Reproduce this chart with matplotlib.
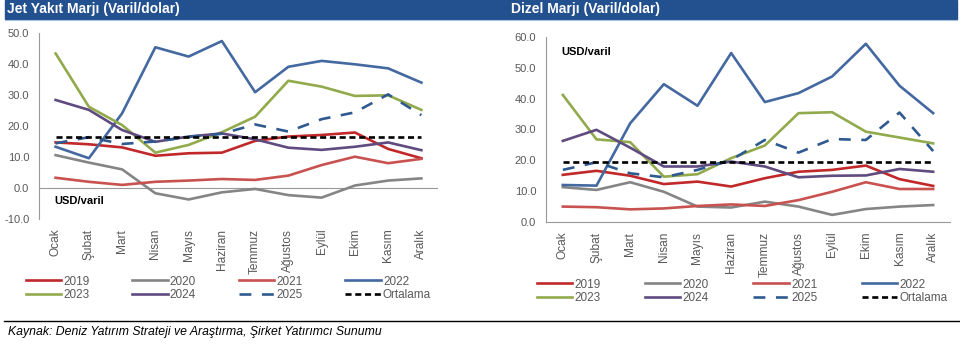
import matplotlib
matplotlib.use("Agg")
import matplotlib.pyplot as plt
from matplotlib.patches import Rectangle
from matplotlib.lines import Line2D

plt.rcParams['font.family'] = ['Liberation Sans', 'DejaVu Sans']

# aylar
months = ['Ocak', 'Şubat', 'Mart', 'Nisan', 'Mayıs', 'Haziran', 'Temmuz',
          'Ağustos', 'Eylül', 'Ekim', 'Kasım', 'Aralık']

# Jet yakıt marjı (USD/varil)
jet_2019 = [14.7, 14.1, 13.1, 10.4, 11.2, 11.4, 15.2, 16.6, 17.1, 17.9, 12.6, 9.6]
jet_2020 = [10.6, 8.2, 6.0, -1.7, -3.7, -1.4, -0.3, -2.3, -3.1, 0.8, 2.4, 3.1]
jet_2021 = [3.3, 2.0, 1.0, 2.0, 2.4, 2.9, 2.6, 4.0, 7.4, 10.1, 8.0, 9.4]
jet_2022 = [13.3, 9.6, 24.1, 45.4, 42.4, 47.4, 30.9, 39.1, 41.0, 39.9, 38.6, 34.0]
jet_2023 = [43.4, 26.2, 20.3, 11.4, 13.9, 18.0, 23.0, 34.6, 32.7, 29.7, 29.9, 25.2]
jet_2024 = [28.4, 25.2, 18.7, 14.9, 16.6, 17.6, 15.7, 13.0, 12.3, 13.3, 14.7, 12.2]
jet_2025 = [14.4, 16.4, 14.2, 15.0, 16.5, 17.5, 20.5, 18.2, 22.2, 24.4, 30.2, 23.5]
jet_avg = 16.6

# Dizel marjı (USD/varil)
diz_2019 = [15.3, 16.6, 15.0, 12.3, 13.1, 11.5, 14.2, 16.3, 16.9, 18.3, 13.9, 11.7]
diz_2020 = [11.3, 10.4, 12.9, 9.8, 5.0, 4.7, 6.6, 5.0, 2.3, 4.2, 5.0, 5.5]
diz_2021 = [5.0, 4.8, 4.1, 4.4, 5.2, 5.7, 5.2, 7.1, 9.8, 12.9, 10.7, 10.7]
diz_2022 = [12.0, 11.8, 32.0, 44.7, 37.7, 54.8, 38.9, 41.8, 47.2, 57.8, 44.2, 35.3]
diz_2023 = [41.2, 26.8, 25.9, 14.7, 15.5, 20.7, 24.8, 35.3, 35.6, 29.3, 27.4, 25.5]
diz_2024 = [26.3, 29.9, 24.1, 18.0, 18.0, 19.6, 18.0, 14.5, 15.0, 15.1, 17.2, 16.3]
diz_2025 = [16.9, 19.4, 15.8, 14.5, 16.9, 20.1, 26.6, 22.5, 26.9, 26.6, 35.5, 23.0]
diz_avg = 19.6

colors = {'2019': '#C0282A', '2020': '#858585', '2021': '#C8524F',
          '2022': '#4468A0', '2023': '#92AA4C', '2024': '#5F4B80',
          '2025': '#2F5A90'}
tick_col = '#595959'

fig = plt.figure(figsize=(9.6, 3.63), dpi=100)

# başlık bantları
fig.patches.append(Rectangle((5 / 960, 1 - 19 / 363), 952 / 960, 19 / 363,
                             transform=fig.transFigure, color='#23508F', zorder=0))
fig.add_artist(Line2D([5 / 960, 957 / 960], [1 - 19.5 / 363] * 2, color='#A9C0E0',
                      lw=0.8, transform=fig.transFigure))
fig.text(7 / 960, 1 - 9.5 / 363, 'Jet Yakıt Marjı (Varil/dolar)', color='white',
         fontsize=10, fontweight='bold', va='center')
fig.text(511 / 960, 1 - 9.5 / 363, 'Dizel Marjı (Varil/dolar)', color='white',
         fontsize=10, fontweight='bold', va='center')


def draw(ax, series, avg, ylim):
    x = range(len(months))
    for year, vals in series:
        ls = (0, (4.5, 4)) if year == '2025' else '-'
        ax.plot(x, vals, color=colors[year], lw=1.9, ls=ls, label=year)
    ax.plot(x, [avg] * len(months), color='black', lw=1.9, ls=(0, (2.3, 1.4)),
            label='Ortalama')
    ax.set_xlim(-0.5, 11.5)
    ax.set_ylim(*ylim)
    ax.set_yticks(range(ylim[0], ylim[1] + 1, 10))
    ax.set_yticklabels([f'{v:.1f}' for v in range(ylim[0], ylim[1] + 1, 10)])
    ax.set_xticks(list(x))
    ax.set_xticklabels(months, rotation=90)
    ax.tick_params(length=0, labelsize=8, colors=tick_col, pad=7)
    ax.tick_params(axis='x', labelsize=8.6)
    for s in ['top', 'right']:
        ax.spines[s].set_visible(False)
    ax.spines['left'].set_color('#999999')
    ax.spines['bottom'].set_color('#999999')
    h, l = ax.get_legend_handles_labels()
    order = [0, 4, 1, 5, 2, 6, 3, 7]
    return [h[i] for i in order], [l[i] for i in order]


# Jet
ax1 = fig.add_axes([39 / 960, 1 - 219 / 363, 399 / 960, 186 / 363])
h, l = draw(ax1, [('2019', jet_2019), ('2020', jet_2020), ('2021', jet_2021),
                  ('2022', jet_2022), ('2023', jet_2023), ('2024', jet_2024),
                  ('2025', jet_2025)], jet_avg, (-10, 50))
ax1.spines['bottom'].set_visible(False)
ax1.axhline(0, color='#999999', lw=0.8, zorder=0)
ax1.text(-0.05, -4.2, 'USD/varil', fontsize=8, fontweight='bold', va='center')
fig.legend(h, l, loc='upper left', bbox_to_anchor=(15 / 960, 1 - 265 / 363),
           ncol=4, frameon=False, fontsize=8.5, handlelength=3.0,
           handletextpad=0.2, columnspacing=3.6, labelspacing=0.15,
           labelcolor=tick_col)

# Dizel
ax2 = fig.add_axes([546 / 960, 1 - 222 / 363, 404 / 960, 185 / 363])
h, l = draw(ax2, [('2019', diz_2019), ('2020', diz_2020), ('2021', diz_2021),
                  ('2022', diz_2022), ('2023', diz_2023), ('2024', diz_2024),
                  ('2025', diz_2025)], diz_avg, (0, 60))
ax2.text(-0.05, 55, 'USD/varil', fontsize=8, fontweight='bold', va='center')
fig.legend(h, l, loc='upper left', bbox_to_anchor=(526 / 960, 1 - 268 / 363),
           ncol=4, frameon=False, fontsize=8.5, handlelength=3.0,
           handletextpad=0.2, columnspacing=3.75, labelspacing=0.15,
           labelcolor=tick_col)

# kaynak
fig.add_artist(Line2D([4 / 960, 1], [1 - 321 / 363] * 2, color='black', lw=1,
                      transform=fig.transFigure))
fig.text(8 / 960, 1 - 332 / 363,
         'Kaynak: Deniz Yatırım Strateji ve Araştırma, Şirket Yatırımcı Sunumu',
         fontsize=8.8, style='italic', va='center')

fig.savefig('out.png', dpi=100)
